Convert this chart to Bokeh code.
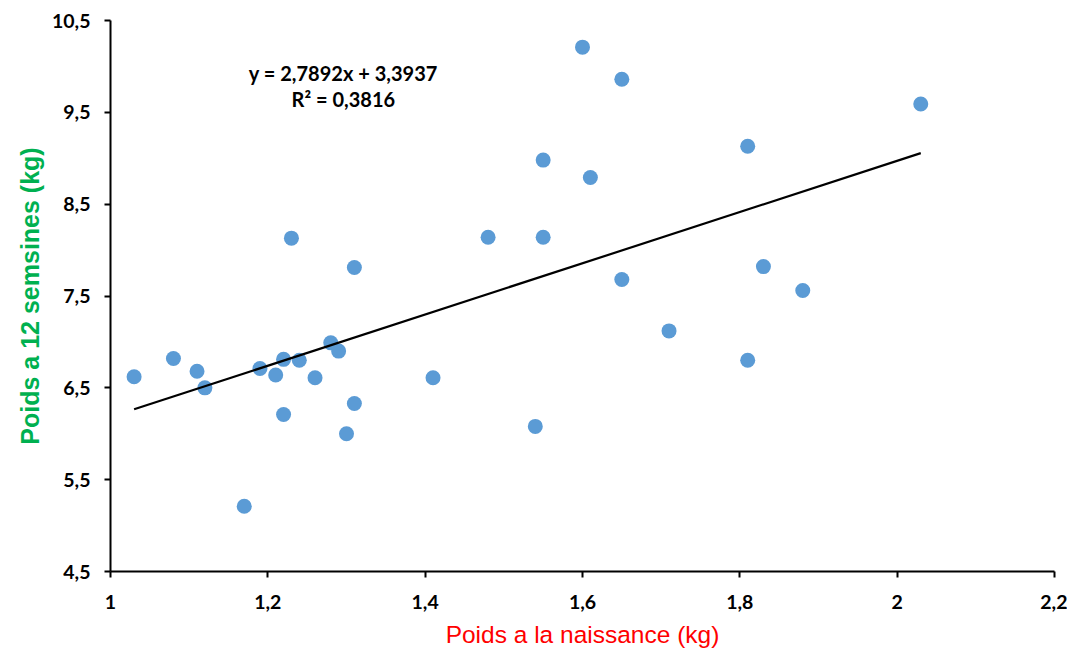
from bokeh.plotting import figure
from bokeh.models import ColumnDataSource, Range1d, FixedTicker, Label
from bokeh.embed import file_html
from bokeh.resources import INLINE

# Data
birth_weight = [1.03, 1.08, 1.11, 1.12, 1.17, 1.19, 1.21, 1.22, 1.22, 1.23,
                1.24, 1.26, 1.28, 1.29, 1.30, 1.31, 1.31, 1.41, 1.48, 1.54,
                1.55, 1.55, 1.60, 1.61, 1.65, 1.65, 1.71, 1.81, 1.81, 1.83,
                1.88, 2.03]
weight_12w = [6.62, 6.82, 6.68, 6.50, 5.21, 6.71, 6.64, 6.81, 6.21, 8.13,
              6.80, 6.61, 6.99, 6.90, 6.00, 7.81, 6.33, 6.61, 8.14, 6.08,
              8.98, 8.14, 10.21, 8.79, 9.86, 7.68, 7.12, 9.13, 6.80, 7.82,
              7.56, 9.59]

slope = 2.7892
intercept = 3.3937
r2_text = "R² = 0,3816"
eq_text = "y = 2,7892x + 3,3937"

x_ticks = [1.0, 1.2, 1.4, 1.6, 1.8, 2.0, 2.2]
x_tick_labels = ["1", "1,2", "1,4", "1,6", "1,8", "2", "2,2"]
y_ticks = [4.5, 5.5, 6.5, 7.5, 8.5, 9.5, 10.5]
y_tick_labels = ["4,5", "5,5", "6,5", "7,5", "8,5", "9,5", "10,5"]

x_label = "Poids a la naissance (kg)"
y_label = "Poids a 12 semsines (kg)"

p = figure(width=1067, height=655, output_backend="svg", toolbar_location=None,
           x_range=Range1d(1.0, 2.2), y_range=Range1d(4.5, 10.5),
           min_border_left=110, min_border_right=13, min_border_top=20,
           min_border_bottom=84)
p.outline_line_color = None
p.xgrid.visible = False
p.ygrid.visible = False

src = ColumnDataSource(dict(x=birth_weight, y=weight_12w))
p.scatter("x", "y", source=src, size=15, fill_color="#5B9BD5",
          line_color="#5B9BD5", line_width=0)

xmin, xmax = min(birth_weight), max(birth_weight)
p.line([xmin, xmax], [slope * xmin + intercept, slope * xmax + intercept],
       line_color="black", line_width=2.2)

for ax, ticks, labels in ((p.xaxis[0], x_ticks, x_tick_labels),
                          (p.yaxis[0], y_ticks, y_tick_labels)):
    ax.ticker = FixedTicker(ticks=ticks)
    ax.major_label_overrides = {t: l for t, l in zip(ticks, labels)}
    ax.minor_tick_line_color = None
    ax.axis_line_color = "black"
    ax.axis_line_width = 2
    ax.major_tick_line_color = "black"
    ax.major_tick_line_width = 2
    ax.major_tick_out = 6
    ax.major_tick_in = 0
    ax.major_label_text_font = "Lato"
    ax.major_label_text_font_style = "bold"
    ax.major_label_text_font_size = "19.5px"
    ax.major_label_text_color = "black"

p.xaxis.major_label_standoff = 17
p.yaxis.major_label_standoff = 14

p.xaxis.axis_label = x_label
p.xaxis.axis_label_text_font = "Liberation Sans"
p.xaxis.axis_label_text_font_style = "normal"
p.xaxis.axis_label_text_font_size = "24.5px"
p.xaxis.axis_label_text_color = "#FF0000"
p.xaxis.axis_label_standoff = 9

p.yaxis.axis_label = y_label
p.yaxis.axis_label_text_font = "Liberation Sans"
p.yaxis.axis_label_text_font_style = "bold"
p.yaxis.axis_label_text_font_size = "25px"
p.yaxis.axis_label_text_color = "#00B050"
p.yaxis.axis_label_standoff = 5

for txt, yy in ((eq_text, 9.93), (r2_text, 9.65)):
    p.add_layout(Label(x=1.296, y=yy, text=txt, text_align="center",
                       text_baseline="middle", text_font="Lato",
                       text_font_style="bold", text_font_size="20px",
                       text_color="black"))

open("out.html", "w").write(file_html(p, INLINE))
